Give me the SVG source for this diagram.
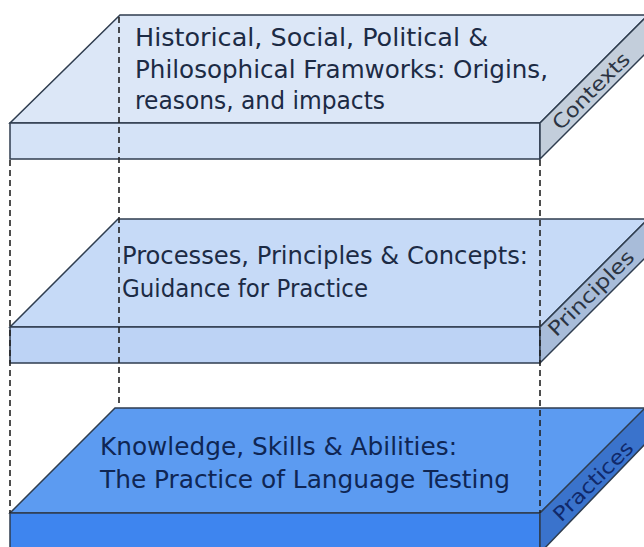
<svg xmlns="http://www.w3.org/2000/svg" width="644" height="547" viewBox="0 0 644 547">
<style>
.edge{stroke:#2f3d4f;stroke-width:1.5;stroke-linejoin:miter}
.t{font-family:"DejaVu Sans Condensed","DejaVu Sans",sans-serif;font-size:24px;fill:#1c2b45}
.tb{fill:#0f2654}
.side{font-family:"DejaVu Sans Condensed","DejaVu Sans",sans-serif;font-size:20px;fill:#2b3442;text-anchor:middle}
.dash{stroke:#222222;stroke-width:1.6;stroke-dasharray:6 4;fill:none}
</style>
<rect width="644" height="547" fill="#ffffff"/>
<g id="contexts">
<polygon class="edge" points="120,15 648,15 540,123 10,123" fill="#dce7f7"/>
<rect class="edge" x="10" y="123" width="530" height="36" fill="#d5e3f7"/>
<polygon class="edge" points="540,123 648,15 648,51 540,159" fill="#c3cedb"/>
<text class="t" x="135" y="46" textLength="353" lengthAdjust="spacingAndGlyphs">Historical, Social, Political &amp;</text>
<text class="t" x="135" y="78" textLength="413" lengthAdjust="spacingAndGlyphs">Philosophical Framworks: Origins,</text>
<text class="t" x="135" y="109" textLength="250" lengthAdjust="spacingAndGlyphs">reasons, and impacts</text>
<text class="side" transform="translate(591,91) rotate(-45)" y="7" textLength="100" lengthAdjust="spacingAndGlyphs">Contexts</text>
</g>
<g id="principles">
<polygon class="edge" points="118,219 648,219 540,327 10,327" fill="#c6daf7"/>
<rect class="edge" x="10" y="327" width="530" height="36" fill="#bdd3f5"/>
<polygon class="edge" points="540,327 648,219 648,255 540,363" fill="#a8bcd9"/>
<text class="t" x="122" y="264" textLength="406" lengthAdjust="spacingAndGlyphs">Processes, Principles &amp; Concepts:</text>
<text class="t" x="122" y="297" textLength="246" lengthAdjust="spacingAndGlyphs">Guidance for Practice</text>
<text class="side" transform="translate(591,293) rotate(-45)" y="7" textLength="112" lengthAdjust="spacingAndGlyphs">Principles</text>
</g>
<g id="practices">
<polygon class="edge" points="115,408 648,408 540,513 10,513" fill="#5c9bf1"/>
<rect class="edge" x="10" y="513" width="530" height="40" fill="#3e85ef"/>
<polygon class="edge" points="540,513 648,405 648,441 540,553" fill="#3a73cc"/>
<text class="t tb" x="100" y="455" textLength="357" lengthAdjust="spacingAndGlyphs">Knowledge, Skills &amp; Abilities:</text>
<text class="t tb" x="100" y="488" textLength="410" lengthAdjust="spacingAndGlyphs">The Practice of Language Testing</text>
<text class="side tb" transform="translate(593,481) rotate(-45)" y="7" textLength="104" lengthAdjust="spacingAndGlyphs" style="fill:#10296a">Practices</text>
</g>
<g id="connectors">
<line class="dash" x1="119" y1="17" x2="119" y2="407"/>
<line class="dash" x1="540" y1="160" x2="540" y2="513"/>
<line class="dash" x1="10" y1="160" x2="10" y2="513"/>
</g>
</svg>
